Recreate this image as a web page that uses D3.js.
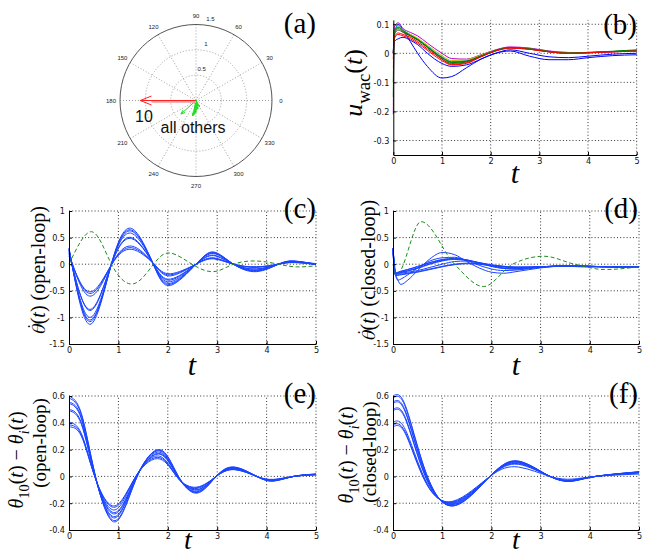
<!DOCTYPE html>
<html>
<head>
<meta charset="utf-8">
<script src="https://cdn.jsdelivr.net/npm/d3@7"></script>
<style>
  body { margin: 0; background: #fff; }
</style>
</head>
<body>
<svg id="fig" width="649" height="556"></svg>
<script>
// ---------- data ----------
// (a) compass plot
var ringValues = [0.5, 1, 1.5];
var spokeAngles = [0, 30, 60, 90, 120, 150, 180, 210, 240, 270, 300, 330];
var node10Mag = [1.1], node10Ang = [180];
var otherMag = [0.4, 0.31, 0.22, 0.19, 0.14, 0.25, 0.17, 0.12, 0.28];
var otherAng = [222, 258, 265, 274, 300, 268, 282, 290, 262];

// shared x ticks
var xTicks = [0, 1, 2, 3, 4, 5];

// (b) u_wac(t)
var tB = [0, 0.02, 0.1, 0.2, 0.35, 0.5, 0.7, 1.0, 1.2, 1.5, 1.8, 2.1, 2.4, 2.8, 3.2, 3.6, 4.0, 4.5, 5];
var uwac = [
  [0.0, 0.06, 0.1, 0.08, 0.04, 0.0, -0.045, -0.085, -0.08, -0.05, -0.02, 0.0, 0.008, -0.01, -0.022, -0.022, -0.015, -0.008, -0.005],
  [-0.15, 0.07, 0.085, 0.075, 0.06, 0.045, 0.02, -0.02, -0.035, -0.03, -0.01, 0.01, 0.02, 0.015, 0.005, 0.0, 0.002, 0.006, 0.01],
  [-0.02, 0.05, 0.065, 0.06, 0.05, 0.035, 0.01, -0.025, -0.04, -0.035, -0.012, 0.008, 0.018, 0.014, 0.005, 0.0, 0.002, 0.005, 0.008],
  [0.0, 0.08, 0.095, 0.08, 0.065, 0.05, 0.025, -0.012, -0.028, -0.025, -0.008, 0.01, 0.02, 0.017, 0.007, 0.002, 0.003, 0.006, 0.01],
  [-0.21, 0.09, 0.105, 0.085, 0.072, 0.06, 0.035, 0.0, -0.018, -0.02, -0.005, 0.012, 0.022, 0.018, 0.008, 0.003, 0.002, 0.005, 0.008],
  [-0.05, 0.07, 0.09, 0.078, 0.065, 0.052, 0.028, -0.008, -0.025, -0.022, -0.006, 0.01, 0.02, 0.016, 0.006, 0.002, 0.003, 0.006, 0.009],
  [0.0, 0.065, 0.08, 0.072, 0.06, 0.047, 0.022, -0.015, -0.03, -0.027, -0.009, 0.009, 0.02, 0.015, 0.006, 0.001, 0.002, 0.006, 0.009],
  [0.0, 0.04, 0.05, 0.055, 0.045, 0.03, 0.0, -0.035, -0.045, -0.04, -0.02, 0.0, 0.012, 0.0, -0.012, -0.015, -0.01, -0.003, 0.0],
  [-0.1, 0.075, 0.09, 0.078, 0.062, 0.048, 0.022, -0.015, -0.032, -0.028, -0.01, 0.01, 0.02, 0.016, 0.006, 0.001, 0.003, 0.007, 0.012],
  [0.0, 0.055, 0.07, 0.065, 0.055, 0.04, 0.015, -0.02, -0.038, -0.032, -0.012, 0.008, 0.018, 0.014, 0.005, 0.0, 0.002, 0.005, 0.008]
];
var yTicksB = [-0.3, -0.2, -0.1, 0, 0.1];

// (c) theta-dot, open loop
var tOpen = [0, 0.42, 0.86, 1.27, 1.71, 2.05, 2.57, 2.93, 3.33, 3.8, 4.24, 4.55, 5];
var thetaDotOpen = [
  [0.3, -1.13, 0.01, 0.67, -0.01, -0.4, 0.0, 0.23, 0.0, -0.14, 0.0, 0.06, 0.0],
  [0.3, -1.08, 0.01, 0.64, -0.01, -0.38, 0.0, 0.22, 0.0, -0.13, 0.0, 0.06, -0.01],
  [0.28, -1.05, 0.0, 0.62, 0.0, -0.36, 0.0, 0.21, 0.0, -0.12, 0.0, 0.055, 0.0],
  [0.27, -1.0, 0.0, 0.58, 0.0, -0.33, 0.0, 0.2, 0.0, -0.11, 0.0, 0.05, 0.01],
  [0.25, -0.87, 0.0, 0.5, 0.0, -0.3, 0.0, 0.17, 0.0, -0.09, 0.0, 0.045, 0.0],
  [0.22, -0.85, 0.0, 0.48, 0.0, -0.28, 0.0, 0.16, 0.0, -0.09, 0.0, 0.045, 0.0],
  [0.2, -0.6, -0.01, 0.34, 0.01, -0.22, 0.0, 0.12, 0.0, -0.06, 0.0, 0.04, 0.0],
  [0.18, -0.55, -0.01, 0.31, 0.01, -0.2, 0.0, 0.11, 0.0, -0.05, 0.0, 0.035, -0.01],
  [0.15, -0.52, -0.01, 0.28, 0.01, -0.18, 0.0, 0.1, 0.0, -0.05, 0.0, 0.03, 0.0]
];
var tOpen10 = [0, 0.46, 0.86, 1.3, 1.71, 2.05, 2.49, 2.93, 3.33, 3.8, 4.24, 4.6, 5];
var thetaDotOpen10 = [0.0, 0.61, 0.0, -0.37, 0.0, 0.21, 0.0, -0.14, 0.0, 0.06, 0.0, -0.05, -0.03];

// (d) theta-dot, closed loop
var tClosed = [0, 0.05, 0.1, 0.16, 0.3, 0.5, 0.75, 1.0, 1.25, 1.5, 1.75, 2.0, 2.25, 2.5, 3.0, 3.5, 4.0, 4.5, 5];
var thetaDotClosed = [
  [0.3, -0.15, -0.3, -0.38, -0.3, -0.12, 0.1, 0.22, 0.18, 0.05, -0.07, -0.15, -0.17, -0.14, -0.07, -0.03, -0.04, -0.05, -0.05],
  [0.3, -0.2, -0.3, -0.28, -0.2, -0.07, 0.06, 0.12, 0.13, 0.07, -0.02, -0.09, -0.12, -0.11, -0.06, -0.03, -0.04, -0.05, -0.05],
  [0.3, -0.18, -0.17, -0.16, -0.13, -0.08, 0.0, 0.06, 0.09, 0.07, 0.02, -0.03, -0.07, -0.08, -0.05, -0.03, -0.04, -0.05, -0.05],
  [0.28, -0.17, -0.16, -0.15, -0.12, -0.07, 0.01, 0.07, 0.1, 0.08, 0.03, -0.02, -0.05, -0.07, -0.05, -0.03, -0.04, -0.05, -0.05],
  [0.25, -0.19, -0.18, -0.17, -0.15, -0.12, -0.06, 0.0, 0.05, 0.06, 0.03, -0.01, -0.04, -0.06, -0.05, -0.04, -0.04, -0.05, -0.05],
  [0.22, -0.2, -0.2, -0.19, -0.17, -0.14, -0.09, -0.04, 0.0, 0.02, 0.01, -0.02, -0.04, -0.05, -0.05, -0.04, -0.05, -0.05, -0.05],
  [0.2, -0.21, -0.21, -0.2, -0.18, -0.15, -0.1, -0.05, -0.01, 0.01, 0.0, -0.03, -0.05, -0.06, -0.05, -0.04, -0.05, -0.05, -0.05],
  [0.3, -0.17, -0.16, -0.14, -0.1, -0.05, 0.03, 0.08, 0.1, 0.08, 0.02, -0.04, -0.08, -0.09, -0.05, -0.03, -0.04, -0.05, -0.05],
  [0.3, -0.16, -0.15, -0.13, -0.1, -0.04, 0.03, 0.09, 0.11, 0.08, 0.02, -0.04, -0.08, -0.09, -0.05, -0.03, -0.04, -0.05, -0.05]
];
var tClosed10 = [0, 0.07, 0.57, 1.25, 1.84, 2.43, 3.07, 3.69, 4.3, 5];
var thetaDotClosed10 = [0.0, -0.2, 0.8, 0.0, -0.42, 0.0, 0.15, 0.0, -0.1, -0.05];
var yTicksCD = [-1.5, -1, -0.5, 0, 0.5, 1];

// (e) theta10 - theta_i, open loop
var tDiffOpen = [0, 0.25, 0.53, 0.93, 1.37, 1.84, 2.2, 2.59, 2.98, 3.35, 3.8, 4.14, 4.55, 5];
var diffOpen = [
  [0.6, 0.47, 0.01, -0.34, -0.01, 0.2, 0.01, -0.125, 0.0, 0.07, 0.0, -0.035, 0.0, 0.018],
  [0.585, 0.46, 0.01, -0.33, -0.01, 0.195, 0.01, -0.12, 0.0, 0.068, 0.0, -0.034, 0.0, 0.017],
  [0.555, 0.44, 0.0, -0.31, 0.0, 0.19, 0.0, -0.115, 0.0, 0.065, 0.0, -0.032, 0.0, 0.016],
  [0.545, 0.43, 0.0, -0.3, 0.0, 0.18, 0.0, -0.11, 0.0, 0.062, 0.0, -0.03, 0.0, 0.015],
  [0.5, 0.4, 0.0, -0.28, 0.0, 0.17, 0.0, -0.1, 0.0, 0.06, 0.0, -0.03, 0.0, 0.015],
  [0.49, 0.39, 0.0, -0.27, 0.0, 0.165, 0.0, -0.1, 0.0, 0.058, 0.0, -0.028, 0.0, 0.014],
  [0.405, 0.32, -0.01, -0.25, 0.01, 0.15, -0.01, -0.09, 0.0, 0.055, 0.0, -0.026, 0.0, 0.013],
  [0.385, 0.31, -0.01, -0.23, 0.01, 0.14, -0.01, -0.085, 0.0, 0.052, 0.0, -0.025, 0.0, 0.012],
  [0.37, 0.3, -0.01, -0.22, 0.01, 0.13, -0.01, -0.08, 0.0, 0.05, 0.0, -0.022, 0.0, 0.012]
];

// (f) theta10 - theta_i, closed loop
var tDiffClosed = [0, 0.25, 0.65, 1.22, 1.97, 2.55, 3.19, 3.65, 4.12, 5];
var diffClosed = [
  [0.6, 0.53, 0.05, -0.22, 0.0, 0.115, 0.0, -0.035, 0.0, 0.035],
  [0.585, 0.52, 0.045, -0.22, 0.0, 0.112, 0.0, -0.035, 0.0, 0.034],
  [0.555, 0.49, 0.03, -0.215, 0.0, 0.11, 0.0, -0.033, 0.0, 0.033],
  [0.545, 0.48, 0.025, -0.21, 0.0, 0.108, 0.0, -0.032, 0.0, 0.032],
  [0.5, 0.44, 0.01, -0.205, 0.0, 0.105, 0.0, -0.03, 0.0, 0.03],
  [0.49, 0.43, 0.005, -0.2, 0.0, 0.1, 0.0, -0.03, 0.0, 0.03],
  [0.405, 0.35, -0.02, -0.195, 0.0, 0.095, 0.0, -0.028, 0.0, 0.028],
  [0.385, 0.33, -0.03, -0.19, 0.0, 0.09, 0.0, -0.027, 0.0, 0.025],
  [0.37, 0.32, -0.035, -0.185, 0.0, 0.07, 0.0, -0.02, 0.0, 0.018]
];
var yTicksEF = [-0.4, -0.2, 0, 0.2, 0.4, 0.6];

// ---------- styles ----------
var SERIF = "Liberation Serif, FreeSerif, serif";
var DOTSERIF = "FreeSerif, DejaVu Serif, serif";   // renders the combining dot properly
var TICKFONT = "Liberation Sans Narrow, DejaVu Sans Condensed, sans-serif";
var SANS = "Liberation Sans, Arial, sans-serif";
var BLUE = "#1a44ff";
var GREEN_DASH = "#1f8c1f";
var matlabColors = ["#0000ff", "#008000", "#ff0000", "#00bfbf", "#bf00bf", "#bfbf00", "#404040"];

var svg = d3.select("#fig");

// build one cartesian panel: grid, axes, returns scales
function makePanel(box, yDomain, yTicks) {
  var x = d3.scaleLinear().domain([0, 5]).range([box.left, box.right]);
  var y = d3.scaleLinear().domain(yDomain).range([box.bottom, box.top]);
  var g = svg.append("g");

  g.selectAll(".gx").data(xTicks.filter(function(d) { return d !== 0; }))
    .enter().append("line")
    .attr("x1", function(d) { return x(d); }).attr("x2", function(d) { return x(d); })
    .attr("y1", box.bottom).attr("y2", box.top)
    .attr("stroke", "#000").attr("stroke-width", 0.8).attr("stroke-dasharray", "1,2.2");
  g.selectAll(".gy").data(yTicks.filter(function(d) { return d !== yDomain[0]; }))
    .enter().append("line")
    .attr("x1", box.left).attr("x2", box.right)
    .attr("y1", function(d) { return y(d); }).attr("y2", function(d) { return y(d); })
    .attr("stroke", "#000").attr("stroke-width", 0.8).attr("stroke-dasharray", "1,2.2");

  var lines = g.append("g");

  var ax = g.append("g").attr("transform", "translate(0," + box.bottom + ")")
    .call(d3.axisBottom(x).tickValues(xTicks).tickSizeInner(-3).tickSizeOuter(0).tickPadding(3)
      .tickFormat(function(d) { return String(d); }));
  var ay = g.append("g").attr("transform", "translate(" + box.left + ",0)")
    .call(d3.axisLeft(y).tickValues(yTicks).tickSizeInner(-3).tickSizeOuter(0).tickPadding(4)
      .tickFormat(function(d) { return String(d); }));
  [ax, ay].forEach(function(a) {
    a.attr("font-family", TICKFONT).attr("font-size", 9);
    a.selectAll("text").attr("fill", "#111");
    a.select(".domain").attr("stroke", "#000");
  });
  return { x: x, y: y, lines: lines };
}

function drawSeries(p, t, vals, color, dash, curve) {
  var line = d3.line()
    .x(function(v, i) { return p.x(t[i]); })
    .y(function(v) { return p.y(v); })
    .curve(curve);
  p.lines.append("path").datum(vals)
    .attr("d", line)
    .attr("fill", "none")
    .attr("stroke", color)
    .attr("stroke-width", 1)
    .attr("stroke-dasharray", dash || null);
}

// rich (maybe rotated) label built from tspans
function richLabel(x, y, parts, size, rotate) {
  var g = svg.append("g").attr("transform", "translate(" + x + "," + y + ")" + (rotate ? " rotate(-90)" : ""));
  var t = g.append("text").attr("font-family", SERIF).attr("font-size", size)
    .attr("text-anchor", "middle").attr("fill", "#000");
  var shift = 0;
  parts.forEach(function(p) {
    var s = t.append("tspan").text(p.s);
    if (p.i) s.attr("font-style", "italic");
    if (p.f) s.attr("font-family", p.f);
    var target = p.sub ? size * 0.3 : 0;
    if (target !== shift) { s.attr("dy", target - shift); shift = target; }
    if (p.sub) s.attr("font-size", size * 0.72);
  });
  return t;
}

// theta with a dot above
var thetaDot = [{ s: "\u03B8\u0307", i: true, f: DOTSERIF }, { s: "(" }, { s: "t", i: true }, { s: ")" }];

function panelLetter(x, y, s) {
  svg.append("text").attr("x", x).attr("y", y).attr("text-anchor", "end")
    .attr("font-family", SERIF).attr("font-size", 29).text(s);
}

// ---------- (a) compass ----------
(function() {
  var cx = 196, cy = 100.5;
  var r = d3.scaleLinear().domain([0, 1.5]).range([0, 76]);
  var g = svg.append("g");
  function pt(mag, deg) {
    var a = deg * Math.PI / 180;
    return [cx + r(mag) * Math.cos(a), cy - r(mag) * Math.sin(a)];
  }
  g.selectAll(".spoke").data(spokeAngles).enter().append("line")
    .attr("x1", cx).attr("y1", cy)
    .attr("x2", function(d) { return pt(1.5, d)[0]; })
    .attr("y2", function(d) { return pt(1.5, d)[1]; })
    .attr("stroke", "#888").attr("stroke-width", 0.8).attr("stroke-dasharray", "1,2");
  g.selectAll(".ring").data(ringValues).enter().append("circle")
    .attr("cx", cx).attr("cy", cy).attr("r", function(d) { return r(d); })
    .attr("fill", "none")
    .attr("stroke", function(d) { return d === 1.5 ? "#555" : "#888"; })
    .attr("stroke-width", function(d) { return d === 1.5 ? 1 : 0.8; })
    .attr("stroke-dasharray", function(d) { return d === 1.5 ? null : "1,2"; });
  g.selectAll(".alab").data(spokeAngles).enter().append("text")
    .attr("x", function(d) { return cx + 85 * Math.cos(d * Math.PI / 180); })
    .attr("y", function(d) { return cy - 85 * Math.sin(d * Math.PI / 180); })
    .attr("dy", "0.35em").attr("text-anchor", "middle")
    .attr("font-family", SANS).attr("font-size", 6).attr("fill", "#222")
    .text(function(d) { return d; });
  g.selectAll(".rlab").data(ringValues).enter().append("text")
    .attr("x", function(d) { return cx + (r(d) + 7) * Math.cos(80 * Math.PI / 180); })
    .attr("y", function(d) { return cy - (r(d) + 7) * Math.sin(80 * Math.PI / 180); })
    .attr("dy", "0.35em").attr("text-anchor", "middle")
    .attr("font-family", SANS).attr("font-size", 6).attr("fill", "#222")
    .text(function(d) { return d; });

  // compass arrows (matlab style head: 0.8L, +-0.08L)
  function arrow(mag, ang, color, shaftColor, shaftW) {
    var a = ang * Math.PI / 180, L = r(mag);
    var tip = pt(mag, ang);
    function loc(u, v) {
      return [cx + u * Math.cos(a) - v * Math.sin(a), cy - (u * Math.sin(a) + v * Math.cos(a))];
    }
    var h1 = loc(0.8 * L, 0.08 * L), h2 = loc(0.8 * L, -0.08 * L);
    if (shaftColor) {
      g.append("line").attr("x1", cx).attr("y1", cy + 1).attr("x2", h1[0]).attr("y2", cy + 1)
        .attr("stroke", shaftColor).attr("stroke-width", shaftW);
    }
    g.append("path")
      .attr("d", "M" + cx + "," + cy + "L" + tip + "M" + h1 + "L" + tip + "L" + h2)
      .attr("fill", "none").attr("stroke", color).attr("stroke-width", 1);
  }
  otherMag.forEach(function(m, i) { arrow(m, otherAng[i], "#22dd22"); });
  node10Mag.forEach(function(m, i) { arrow(m, node10Ang[i], "#ff2020", "#ffa0a0", 2.5); });

  g.append("text").attr("x", 144).attr("y", 122).attr("text-anchor", "middle")
    .attr("font-family", SANS).attr("font-size", 16).attr("fill", "#111").text("10");
  g.append("text").attr("x", 193).attr("y", 133).attr("text-anchor", "middle")
    .attr("font-family", SANS).attr("font-size", 16).attr("fill", "#111").text("all others");
})();
panelLetter(316, 33, "(a)");

// ---------- (b) ----------
var pB = makePanel({ left: 393.3, right: 636.7, top: 19.9, bottom: 155 }, [-0.35, 0.115], yTicksB);
uwac.forEach(function(vals, i) {
  drawSeries(pB, tB, vals, matlabColors[i % matlabColors.length], null, d3.curveMonotoneX);
});
richLabel(362, 83, [{ s: "u", i: true }, { s: "wac", sub: true }, { s: "(" }, { s: "t", i: true }, { s: ")" }], 26, true);
richLabel(515, 183, [{ s: "t", i: true }], 30, false);
panelLetter(637, 34, "(b)");

// ---------- (c) ----------
var pC = makePanel({ left: 69, right: 316, top: 211, bottom: 344 }, [-1.5, 1], yTicksCD);
thetaDotOpen.forEach(function(vals) { drawSeries(pC, tOpen, vals, BLUE, null, d3.curveNatural); });
drawSeries(pC, tOpen10, thetaDotOpen10, GREEN_DASH, "4,2.5", d3.curveNatural);
richLabel(45, 270, thetaDot.concat([{ s: " (open-loop)" }]), 20, true);
richLabel(192, 375, [{ s: "t", i: true }], 30, false);
panelLetter(316, 218, "(c)");

// ---------- (d) ----------
var pD = makePanel({ left: 393, right: 639, top: 211, bottom: 344 }, [-1.5, 1], yTicksCD);
thetaDotClosed.forEach(function(vals) { drawSeries(pD, tClosed, vals, BLUE, null, d3.curveMonotoneX); });
drawSeries(pD, tClosed10, thetaDotClosed10, GREEN_DASH, "4,2.5", d3.curveMonotoneX);
richLabel(375, 270, thetaDot.concat([{ s: " (closed-loop)" }]), 20, true);
richLabel(516, 375, [{ s: "t", i: true }], 30, false);
panelLetter(638, 218, "(d)");

// ---------- (e) ----------
var diffLabel = [{ s: "\u03B8", i: true }, { s: "10", sub: true }, { s: "(" }, { s: "t", i: true },
  { s: ") \u2212 " }, { s: "\u03B8", i: true }, { s: "i", sub: true, i: true }, { s: "(" }, { s: "t", i: true }, { s: ")" }];
var pE = makePanel({ left: 69, right: 316, top: 396, bottom: 530 }, [-0.4, 0.6], yTicksEF);
diffOpen.forEach(function(vals) { drawSeries(pE, tDiffOpen, vals, BLUE, null, d3.curveNatural); });
richLabel(23, 460, diffLabel, 20, true);
richLabel(46, 443, [{ s: "(open-loop)" }], 19, true);
richLabel(188, 549, [{ s: "t", i: true }], 28, false);
panelLetter(316, 403, "(e)");

// ---------- (f) ----------
var pF = makePanel({ left: 393, right: 639, top: 396, bottom: 530 }, [-0.4, 0.6], yTicksEF);
diffClosed.forEach(function(vals) { drawSeries(pF, tDiffClosed, vals, BLUE, null, d3.curveNatural); });
richLabel(353, 455, diffLabel, 20, true);
richLabel(376, 452, [{ s: "(closed-loop)" }], 19, true);
richLabel(516, 549, [{ s: "t", i: true }], 28, false);
panelLetter(638, 403, "(f)");
</script>
</body>
</html>
